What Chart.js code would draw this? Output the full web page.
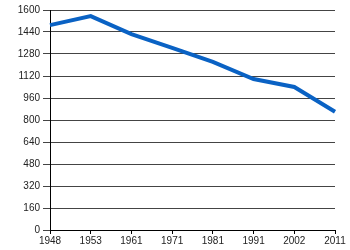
<!DOCTYPE html>
<html>
<head>
<meta charset="utf-8">
<script src="https://cdn.jsdelivr.net/npm/chart.js@4"></script>
<style>
  html, body { margin: 0; padding: 0; background: #fff; }
  #wrap { width: 350px; height: 250px; }
</style>
</head>
<body>
<div id="wrap"><canvas id="popChart"></canvas></div>
<script>
const years = ['1948', '1953', '1961', '1971', '1981', '1991', '2002', '2011'];
const values = [1490, 1556, 1425, 1324, 1222, 1098, 1040, 860];
const yMin = 0;
const yMax = 1600;
const yStep = 160;

const ctx = document.getElementById('popChart').getContext('2d');

const popChart = new Chart(ctx, {
    type: 'line',
    data: {
        labels: years,
        datasets: [{
            data: values,
            borderColor: '#0a62c4',
            borderWidth: 4,
            fill: false,
            tension: 0,
            pointRadius: 0,
        }]
    },
    options: {
        responsive: true,
        maintainAspectRatio: false,
        animation: false,
        layout: { padding: { top: 10, right: 15, bottom: 0, left: 0 } },
        plugins: {
            legend: { display: false },
            tooltip: { enabled: false }
        },
        scales: {
            x: {
                offset: false,
                grid: {
                    drawOnChartArea: false,
                    drawTicks: true,
                    tickLength: 4,
                    color: '#000',
                },
                border: { display: true, color: '#000', width: 1 },
                ticks: {
                    color: '#222',
                    padding: 1,
                    maxRotation: 0,
                    autoSkip: false,
                    font: { size: 10, family: '"Liberation Sans", Arial, sans-serif' },
                },
                afterFit: (axis) => { axis.height = 20; }
            },
            y: {
                min: yMin,
                max: yMax,
                grid: {
                    color: '#444',
                    lineWidth: 1,
                    tickLength: 7,
                },
                border: { display: true, color: '#000', width: 1 },
                ticks: {
                    stepSize: yStep,
                    color: '#222',
                    padding: 3,
                    font: { size: 10, family: '"Liberation Sans", Arial, sans-serif' },
                    callback: (val) => String(val),
                },
                afterFit: (axis) => { axis.width = 50; }
            }
        }
    }
});
</script>
</body>
</html>
